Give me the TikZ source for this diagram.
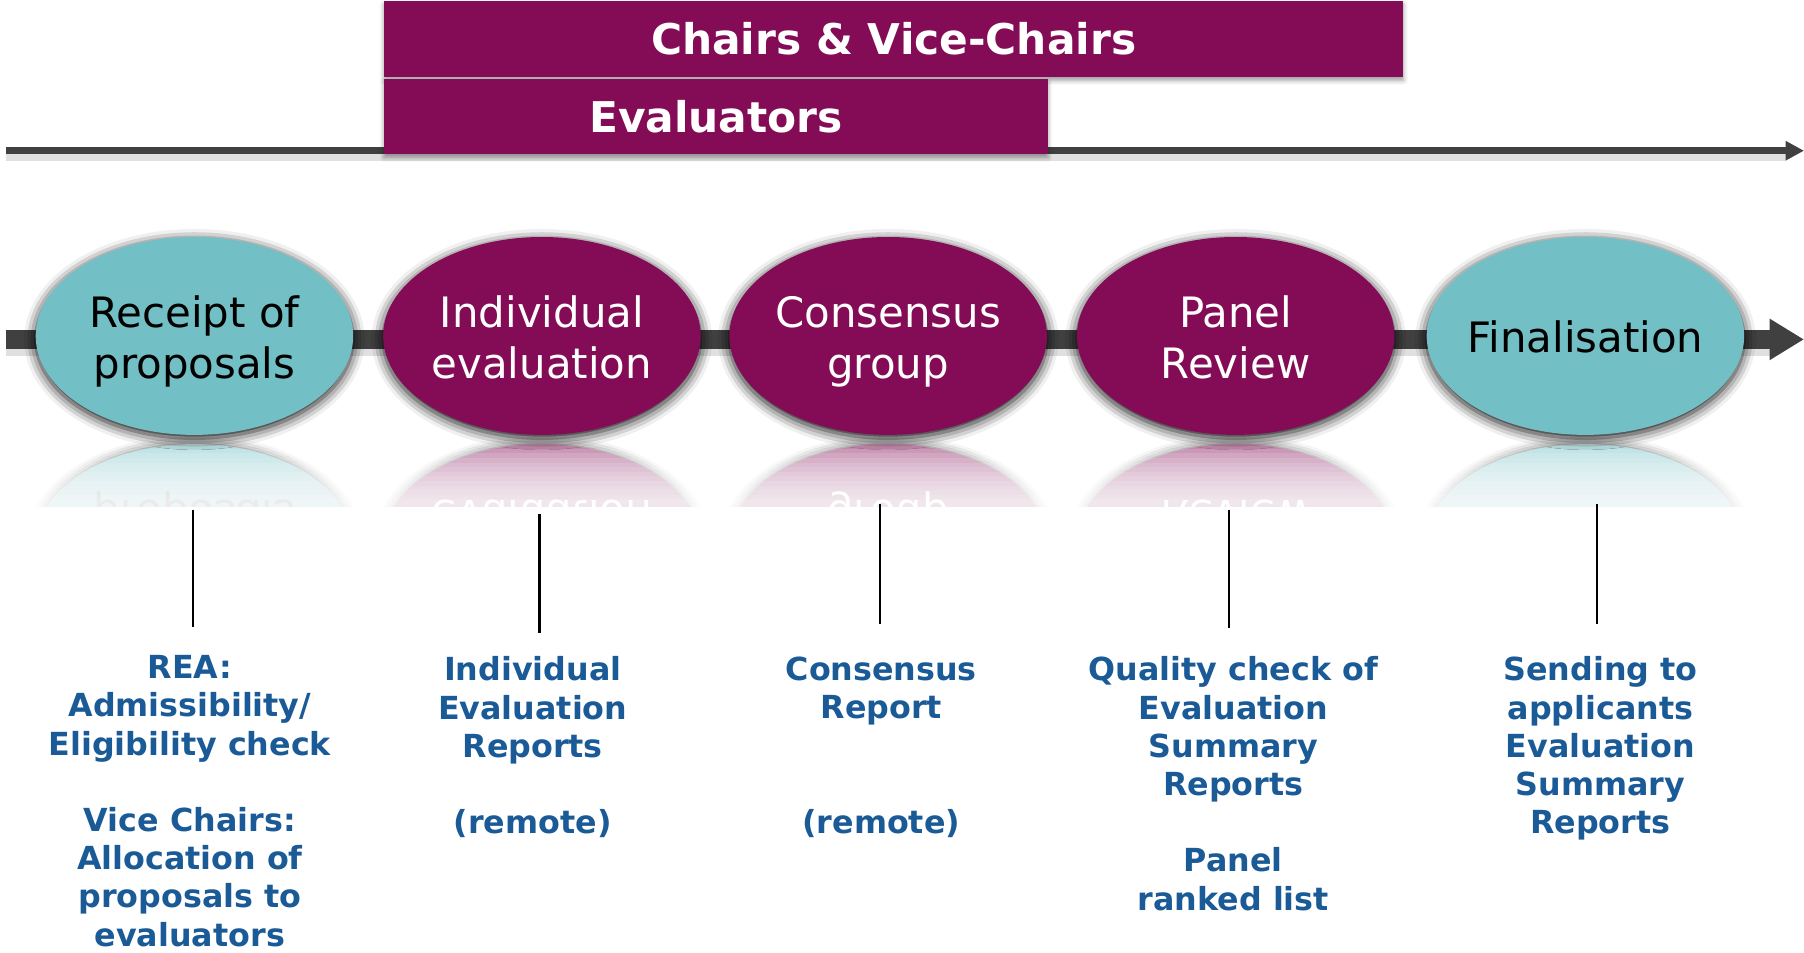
\documentclass[tikz,border=0pt]{standalone}
\usepackage{fontspec}
\setmainfont{DejaVu Sans}
\usetikzlibrary{shapes.geometric,arrows.meta,shadows.blur}
\definecolor{plum}{HTML}{840B55}
\definecolor{aqua}{HTML}{72BFC5}
\definecolor{darkbar}{HTML}{404040}
\definecolor{noteblue}{HTML}{1A5A96}

\begin{document}
\begin{tikzpicture}[x=0.5pt, y=-0.5pt, thick,
    stage/.style = {ellipse, minimum width=138pt, minimum height=86pt, inner sep=0pt,
        blur shadow={shadow xshift=0pt, shadow yshift=-1.5pt, shadow blur radius=5pt, shadow opacity=95}},
    stagetext/.style = {inner sep=0pt, align=center, font=\fontsize{18.2}{22}\selectfont},
    mirror/.style = {stagetext, yscale=-1, transform shape},
    bar/.style = {fill=plum, text=white, inner sep=0pt, anchor=north west,
        font=\fontsize{18.4}{22}\selectfont\bfseries,
        blur shadow={shadow xshift=0pt, shadow yshift=-1.5pt, shadow blur radius=2pt, shadow opacity=40}},
    note/.style = {text=noteblue, align=center, anchor=north, inner sep=0pt,
        font=\fontsize{13.8}{16.6}\selectfont\bfseries},
    tick/.style = {line width=1pt, black}]
    \useasboundingbox (0,0) rectangle (1568,827.5);

    % time line and role bars
    \coordinate (t0) at (5,131);
    \coordinate (t1) at (1568,131);
    \draw[black, opacity=0.12, line width=5pt] ([yshift=-2pt]t0) -- ([yshift=-2pt,xshift=-8pt]t1);
    \draw[darkbar, line width=3pt, -{Triangle[length=8pt,width=8pt]}] (t0) -- (t1);
    \node[bar, minimum width=443pt, minimum height=33pt] (chairs) at (333,0) {Chairs \& Vice-Chairs};
    \node[bar, minimum width=288.5pt, minimum height=32.5pt] (evals) at (333,68) {Evaluators};

    % process bar
    \coordinate (b0) at (5,295);
    \coordinate (b1) at (1568,295);
    \draw[black, opacity=0.12, line width=10pt] ([yshift=-2pt]b0) -- ([yshift=-2pt,xshift=-15pt]b1);
    \draw[darkbar, line width=8pt, -{Triangle[length=15pt,width=17pt]}] (b0) -- (b1);

    % stages with their reflections
    \foreach \cx/\n/\fc/\tc/\rc/\dy/\txt in {
        169/rec/aqua/black/black!35/5/{Receipt of\\proposals},
        471/ind/plum/white/white/1/{Individual\\evaluation},
        772/con/plum/white/white/5/{Consensus\\group},
        1074/pan/plum/white/white/1/{Panel\\Review},
        1378/fin/aqua/black/black!35/1/{Finalisation}}{
        \begin{scope}
            \clip (\cx-150,380) rectangle (\cx+150,440);
            \path[fill=\fc!48!white, blur shadow={shadow xshift=0pt, shadow yshift=0pt, shadow blur radius=4pt, shadow opacity=60}]
                (\cx,472) ellipse (138 and 86);
            \node[mirror, text=\rc] (\n-r) at (\cx,472-\dy) {\txt};
            \foreach \k in {0,...,11}
                \fill[white, opacity=0.13] (\cx-150,390+4*\k) rectangle (\cx+150,442);
        \end{scope}
        \node[stage, fill=\fc] (\n) at (\cx,292) {};
        \node[stagetext, text=\tc] (\n-t) at (\cx,292+\dy) {\txt};
    }

    % links to outputs
    \foreach \x/\ya/\yb/\n in {168/443/545/a, 469/447/550/b, 765/438/542/c, 1068/443/546/d, 1388/438/542/e}{
        \coordinate (\n0) at (\x,\ya);
        \coordinate (\n1) at (\x,\yb);
        \draw[tick] (\n0) -- (\n1);
    }

    % outputs
    \node[note] (outrec) at (165,569) {REA:\\Admissibility/\\Eligibility check\\[16.6pt]Vice Chairs:\\Allocation of\\proposals to\\evaluators};
    \node[note] (outind) at (463,570) {Individual\\Evaluation\\Reports\\[16.6pt](remote)};
    \node[note] (outcon) at (766,570) {Consensus\\Report\\[33.2pt](remote)};
    \node[note] (outpan) at (1072,570) {Quality check of\\Evaluation\\Summary\\Reports\\[16.6pt]Panel\\ranked list};
    \node[note] (outfin) at (1391,570) {Sending to\\applicants\\Evaluation\\Summary\\Reports};
\end{tikzpicture}
\end{document}
